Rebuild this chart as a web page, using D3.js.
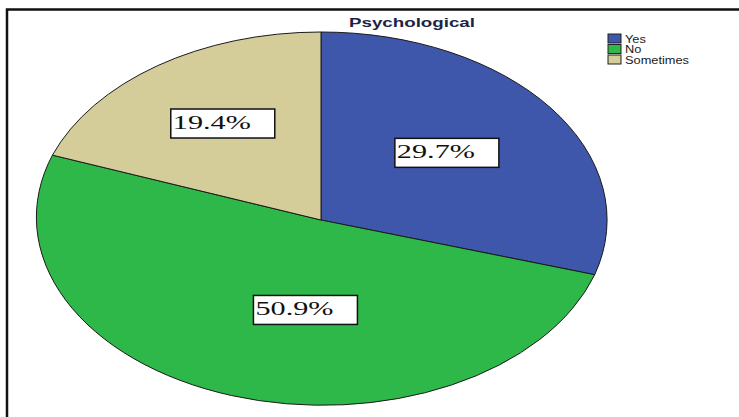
<!DOCTYPE html>
<html>
<head>
<meta charset="utf-8">
<script src="https://cdn.jsdelivr.net/npm/d3@7"></script>
<style>
  body { margin: 0; background: #fff; }
</style>
</head>
<body>
<svg></svg>
<script>
let categories = ["Yes", "No", "Sometimes"]
let percents = [29.7, 50.9, 19.4]
let labels = ["29.7%", "50.9%", "19.4%"]
let title = "Psychological"

let colors = d3.scaleOrdinal()
    .domain(categories)
    .range(["#3f57ab", "#2fb84a", "#d4cd99"])

var svg = d3.select("svg")
    .attr("width", 739)
    .attr("height", 417)

// frame lines (top + left only are visible)
svg.append("path")
    .attr("d", "M7,417 L7,9.5 L739,9.5")
    .attr("fill", "none")
    .attr("stroke", "#111")
    .attr("stroke-width", 2.5)

// title, stretched wide like the source
svg.append("text")
    .attr("transform", "translate(412, 27) scale(1.5, 1)")
    .attr("text-anchor", "middle")
    .attr("font-family", "Liberation Sans, Arial, sans-serif")
    .attr("font-weight", "bold")
    .attr("font-size", 12.5)
    .attr("fill", "#1c2442")
    .text(title)

// elliptical pie: unit arcs scaled into an ellipse
var cx = 321, cy = 220, rx = 286, ry = 188

let pie = d3.pie().sort(null).value(d => d)
let arcs = pie(percents)
let unitArc = d3.arc().innerRadius(0).outerRadius(1)

var pieG = svg.append("g")
    .attr("transform", `translate(${cx}, ${cy}) scale(${rx}, ${ry})`)

pieG.selectAll("path")
    .data(arcs).enter().append("path")
    .attr("d", unitArc)
    .attr("fill", (d, i) => colors(categories[i]))
    .attr("stroke", "#1a1a1a")
    .attr("stroke-width", 1)
    .attr("vector-effect", "non-scaling-stroke")

// label boxes at arc centroids (small nudges to sit where the source puts them)
let labelArc = d3.arc().innerRadius(0.6 * 2).outerRadius(0)
let nudge = [[-12, 0], [39, -17], [0, -4]]
var boxW = 104, boxH = 29

var lab = svg.selectAll(".lab")
    .data(arcs).enter().append("g")
    .attr("class", "lab")
    .attr("transform", (d, i) => {
        let c = labelArc.centroid(d)
        let x = cx + rx * c[0] + nudge[i][0] - boxW / 2
        let y = cy + ry * c[1] + nudge[i][1] - boxH / 2
        return `translate(${x}, ${y})`
    })

lab.append("rect")
    .attr("width", boxW)
    .attr("height", boxH)
    .attr("fill", "#fff")
    .attr("stroke", "#111")
    .attr("stroke-width", 1.5)

lab.append("text")
    .attr("transform", "translate(2, 20) scale(1.68, 1)")
    .attr("font-family", "Liberation Serif, Times New Roman, serif")
    .attr("font-size", 18)
    .attr("fill", "#111")
    .text((d, i) => labels[i])

// legend
var legend = svg.append("g")
    .attr("transform", "translate(608, 34)")

var rows = legend.selectAll("g")
    .data(categories).enter().append("g")
    .attr("transform", (d, i) => `translate(0, ${i * 10.5})`)

rows.append("rect")
    .attr("width", 13)
    .attr("height", 9)
    .attr("fill", d => colors(d))
    .attr("stroke", "#222")
    .attr("stroke-width", 1)

rows.append("text")
    .attr("transform", "translate(17, 8.5) scale(1.28, 1)")
    .attr("font-family", "Liberation Sans, Arial, sans-serif")
    .attr("font-size", 10)
    .attr("fill", "#222")
    .text(d => d)
</script>
</body>
</html>
